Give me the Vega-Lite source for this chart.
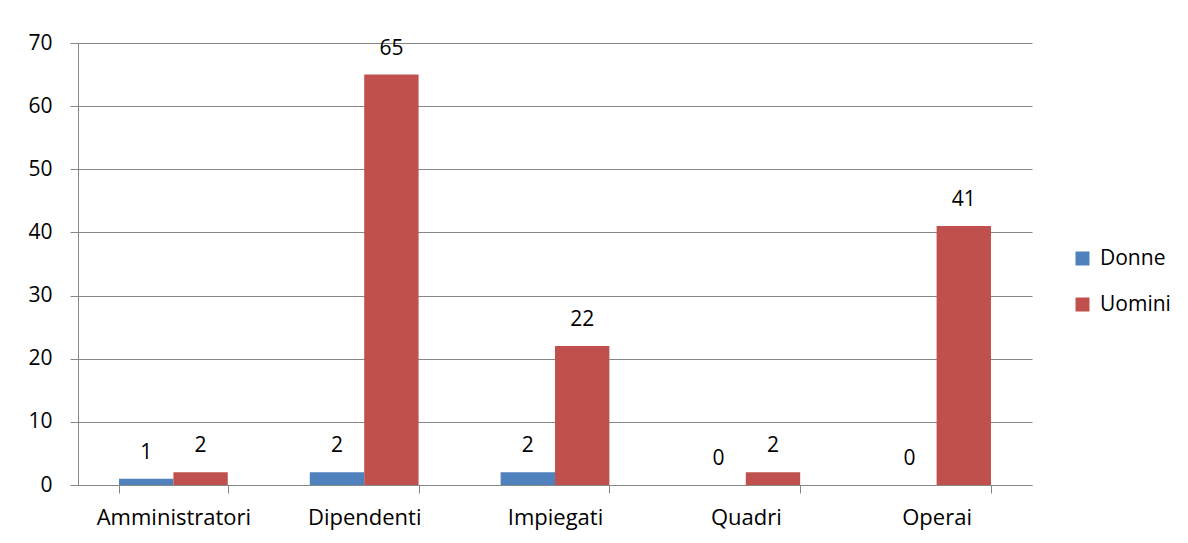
{
  "$schema": "https://vega.github.io/schema/vega-lite/v6.json",
  "width": 954,
  "height": 442,
  "autosize": "none",
  "padding": {"left": 78, "top": 43, "right": 156, "bottom": 58},
  "background": "white",
  "config": {
    "font": "Open Sans",
    "view": {"stroke": null},
    "axis": {"labelFont": "Open Sans", "labelFontSize": 22, "labelColor": "black", "domainColor": "#868686", "tickColor": "#868686", "gridColor": "#868686", "tickSize": 8}
  },
  "data": {
    "values": [
      {"categoria": "Amministratori", "sesso": "Donne", "valore": 1},
      {"categoria": "Amministratori", "sesso": "Uomini", "valore": 2},
      {"categoria": "Dipendenti", "sesso": "Donne", "valore": 2},
      {"categoria": "Dipendenti", "sesso": "Uomini", "valore": 65},
      {"categoria": "Impiegati", "sesso": "Donne", "valore": 2},
      {"categoria": "Impiegati", "sesso": "Uomini", "valore": 22},
      {"categoria": "Quadri", "sesso": "Donne", "valore": 0},
      {"categoria": "Quadri", "sesso": "Uomini", "valore": 2},
      {"categoria": "Operai", "sesso": "Donne", "valore": 0},
      {"categoria": "Operai", "sesso": "Uomini", "valore": 41}
    ]
  },
  "encoding": {
    "x": {
      "field": "categoria", "type": "nominal", "sort": null, "title": null,
      "scale": {"paddingInner": 0.43, "paddingOuter": 0.215},
      "axis": {"labelAngle": 0, "tickBand": "extent", "labelPadding": 14, "labelFontSize": 22, "domainColor": "#868686"}
    },
    "xOffset": {"field": "sesso", "type": "nominal", "scale": {"paddingInner": 0, "paddingOuter": 0}},
    "y": {
      "field": "valore", "type": "quantitative", "title": null,
      "scale": {"domain": [0, 70], "nice": false},
      "axis": {"values": [0, 10, 20, 30, 40, 50, 60, 70], "labelPadding": 18, "labelFontSize": 21, "grid": true, "gridColor": "#868686"}
    }
  },
  "layer": [
    {
      "mark": {"type": "bar"},
      "encoding": {
        "color": {
          "field": "sesso", "type": "nominal", "title": null,
          "scale": {"domain": ["Donne", "Uomini"], "range": ["#4F81BD", "#C0504D"]},
          "legend": {
            "orient": "none", "legendX": 994, "legendY": 205,
            "symbolType": "square", "symbolSize": 196, "symbolStrokeWidth": 0,
            "labelFontSize": 21, "labelFont": "Open Sans", "labelColor": "black",
            "rowPadding": 24, "labelOffset": 7
          }
        }
      }
    },
    {
      "mark": {"type": "text", "baseline": "middle", "dy": -26, "fontSize": 21, "font": "Open Sans", "color": "black"},
      "encoding": {"text": {"field": "valore", "type": "quantitative"}}
    }
  ]
}
